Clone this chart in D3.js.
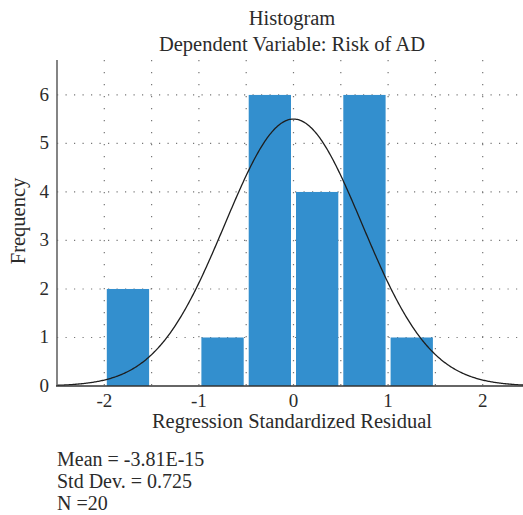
<!DOCTYPE html>
<html><head><meta charset="utf-8">
<script src="https://cdn.jsdelivr.net/npm/d3@7"></script>
<style>html,body{margin:0;padding:0;background:#fff;overflow:hidden}</style>
</head><body><svg id="c" width="523" height="515"></svg>
<script>
// data
const binStarts = [-2, -1, -0.5, 0, 0.5, 1];
const binWidth = 0.5;
const counts = [2, 1, 6, 4, 6, 1];
const xTicks = [-2, -1, 0, 1, 2];
const yTicks = [0, 1, 2, 3, 4, 5, 6];
const mean = -3.81e-15, sd = 0.725, n = 20;
const titleLines = ["Histogram", "Dependent Variable: Risk of AD"];
const statLines = ["Mean = -3.81E-15", "Std Dev. = 0.725", "N =20"];

const svg = d3.select("#c");
const font = "'Liberation Serif', 'Times New Roman', serif";
const txt = "#2b2b2b";
const x = d3.scaleLinear().domain([-2.5, 2.5]).range([57, 530]);
const y = d3.scaleLinear().domain([0, 6.72]).range([386, 60]);

// grid
const g = svg.append("g");
g.selectAll("line.h").data(yTicks.filter(d => d > 0)).join("line")
  .attr("x1", 57).attr("x2", 523).attr("y1", d => y(d)).attr("y2", d => y(d))
  .attr("stroke", "#777").attr("stroke-width", 1.2).attr("stroke-dasharray", "1.2,7.3");
g.selectAll("line.v").data(d3.range(-2, 2.01, 0.5)).join("line")
  .attr("x1", d => x(d)).attr("x2", d => x(d)).attr("y1", 60).attr("y2", 386)
  .attr("stroke", "#777").attr("stroke-width", 1.2).attr("stroke-dasharray", "1.2,10.8");

// bars
svg.append("g").selectAll("rect").data(binStarts).join("rect")
  .attr("x", d => x(d) + 2.5)
  .attr("width", d => x(d + binWidth) - x(d) - 5)
  .attr("y", (d, i) => y(counts[i]))
  .attr("height", (d, i) => y(0) - y(counts[i]))
  .attr("fill", "#338fce");

// normal curve
const dens = v => n * binWidth / (sd * Math.sqrt(2 * Math.PI)) * Math.exp(-0.5 * ((v - mean) / sd) ** 2);
const pts = d3.range(x.invert(57), 2.5, 0.01);
svg.append("path").datum(pts)
  .attr("d", d3.line().x(d => x(d)).y(d => y(dens(d))))
  .attr("fill", "none").attr("stroke", "#1e1e1e").attr("stroke-width", 1.3);

// axes lines
svg.append("line").attr("x1", 57).attr("x2", 57).attr("y1", 60).attr("y2", 386)
  .attr("stroke", "#666").attr("stroke-width", 1.6);
svg.append("line").attr("x1", 56).attr("x2", 523).attr("y1", 386).attr("y2", 386)
  .attr("stroke", "#333").attr("stroke-width", 1.6);

// tick labels
svg.append("g").selectAll("text").data(yTicks).join("text")
  .attr("x", 49).attr("y", d => y(d) + 6).attr("text-anchor", "end")
  .attr("font-family", font).attr("font-size", 19).attr("fill", txt).text(d => d);
svg.append("g").selectAll("text").data(xTicks).join("text")
  .attr("x", d => x(d)).attr("y", 406.5).attr("text-anchor", "middle")
  .attr("font-family", font).attr("font-size", 19).attr("fill", txt).text(d => d);

// axis titles
svg.append("text").attr("x", 292).attr("y", 428).attr("text-anchor", "middle")
  .attr("font-family", font).attr("font-size", 20.5).attr("fill", txt)
  .text("Regression Standardized Residual");
svg.append("text").attr("transform", "translate(25,221) rotate(-90)").attr("text-anchor", "middle")
  .attr("font-family", font).attr("font-size", 20.5).attr("fill", txt).text("Frequency");

// title
svg.append("g").selectAll("text").data(titleLines).join("text")
  .attr("x", 292).attr("y", (d, i) => 25 + i * 26).attr("text-anchor", "middle")
  .attr("font-family", font).attr("font-size", 20.5).attr("fill", txt).text(d => d);

// stats
svg.append("g").selectAll("text").data(statLines).join("text")
  .attr("x", 57).attr("y", (d, i) => 465.5 + i * 22.3)
  .attr("font-family", font).attr("font-size", 20).attr("fill", txt).text(d => d);
</script></body></html>
